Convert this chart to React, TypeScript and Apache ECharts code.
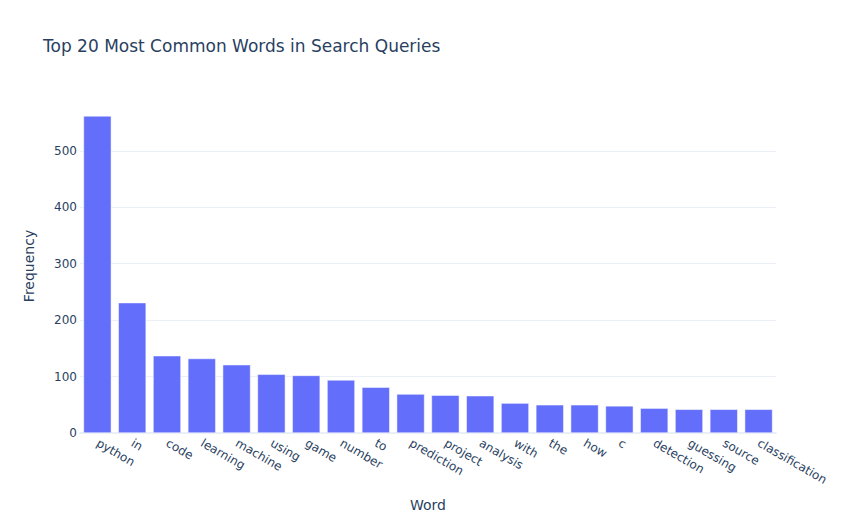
import React, { useEffect, useRef } from 'react'
import * as echarts from 'echarts'

const words = ['python', 'in', 'code', 'learning', 'machine', 'using', 'game', 'number', 'to', 'prediction',
  'project', 'analysis', 'with', 'the', 'how', 'c', 'detection', 'guessing', 'source', 'classification']
const counts = [562, 231, 137, 132, 121, 104, 102, 94, 81, 69, 67, 66, 53, 50, 50, 48, 44, 42, 42, 42]
const yMax = 592

const FONT = '"DejaVu Sans", Verdana, Arial, sans-serif'
const INK = '#2a3f5f'

export default function App(): JSX.Element {
  const ref = useRef<HTMLDivElement>(null)

  useEffect(() => {
    if (!ref.current) return
    const chart = echarts.init(ref.current, undefined, { renderer: 'svg' })
    chart.setOption({
      animation: false,
      backgroundColor: '#ffffff',
      title: {
        text: 'Top 20 Most Common Words in Search Queries',
        left: 30, top: 24,
        textStyle: { fontFamily: FONT, fontSize: 17, fontWeight: 'normal', color: INK },
      },
      grid: { left: 72, right: 73, top: 91, bottom: 81 },
      xAxis: {
        type: 'category', data: words,
        name: 'Word', nameLocation: 'middle', nameGap: 65,
        nameTextStyle: { fontFamily: FONT, fontSize: 14, color: INK },
        axisLine: { show: true, lineStyle: { color: '#ebf0f8', width: 2 } },
        axisTick: { show: false },
        axisLabel: { rotate: -30, margin: 9, interval: 0, fontFamily: FONT, fontSize: 12, color: INK },
      },
      yAxis: {
        type: 'value', min: 0, max: yMax, interval: 100,
        name: 'Frequency', nameLocation: 'middle', nameGap: 44,
        nameTextStyle: { fontFamily: FONT, fontSize: 14, color: INK },
        axisLine: { show: false }, axisTick: { show: false },
        axisLabel: { showMaxLabel: false, margin: 3, fontFamily: FONT, fontSize: 12, color: INK },
        splitLine: { showMaxLine: false, lineStyle: { color: '#ebf0f8', width: 1 } },
      },
      series: [{
        type: 'bar', data: counts, barCategoryGap: '20%',
        itemStyle: { color: '#636efa', borderColor: '#ffffff', borderWidth: 0.5 },
      }],
    })
    return () => chart.dispose()
  }, [])

  return <div ref={ref} style={{ width: 841, height: 509 }} />
}
